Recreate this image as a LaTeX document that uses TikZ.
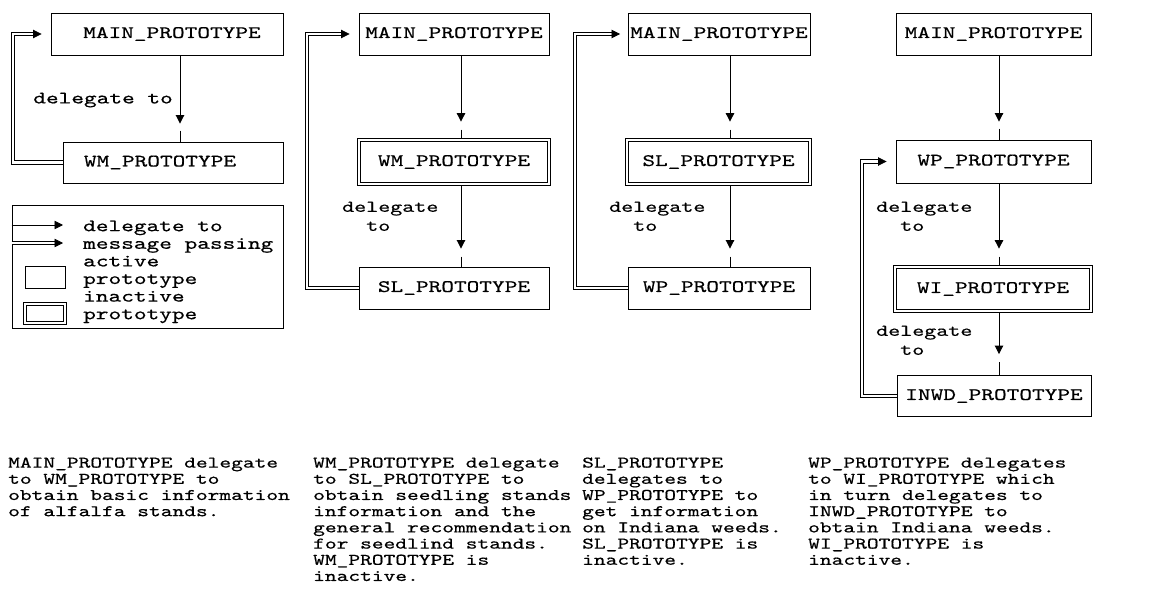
\documentclass[tikz,border=0pt]{standalone}
\usepackage{fontspec}
\setmonofont{lmmono10-regular.otf}[FakeStretch=1.38,FakeBold=0.5]
\usetikzlibrary{arrows.meta,calc}

\begin{document}
\begin{tikzpicture}[x=1pt,y=-1pt,
  every node/.style={font=\ttfamily\fontsize{17.5}{17.6}\selectfont, inner sep=0pt},
  proto/.style={draw, line width=0.9pt, minimum height=42pt},
  inactive/.style={draw, line width=0.8pt, double, double distance=2.4pt, minimum height=44pt},
  deleg/.style={line width=0.9pt, -{Triangle[width=8.5pt,length=8.5pt]}},
  tail/.style={line width=0.9pt},
  msg/.style={line width=0.85pt, double, double distance=2.6pt},
  msgtip/.style={line width=0.8pt, -{Triangle[width=8.5pt,length=8.5pt]}},
  lbl/.style={align=left, anchor=north west, font=\ttfamily\fontsize{16.6}{19}\selectfont},
  legendtext/.style={align=left, anchor=north west, font=\ttfamily\fontsize{17.5}{17.6}\selectfont},
  para/.style={align=left, anchor=north west, font=\ttfamily\fontsize{16.2}{16.2}\selectfont}
]
\fill[white] (0,0) rectangle (1152,616);
\useasboundingbox (0,0) rectangle (1152,616);

% ---------- first chain: MAIN -> WM ----------
\node[proto, minimum width=232pt] (main1) at (167,34) {\hspace*{10pt}MAIN\_PROTOTYPE};
\node[proto, minimum width=220pt, minimum height=41pt] (wm1) at (173,162.5) {WM\_PROTOTYPE\hspace*{26pt}};
\coordinate (v1) at (180,0);
\draw[deleg] (main1.south -| v1) -- ($(wm1.north -| v1)+(0,-18)$);
\draw[tail] ($(wm1.north -| v1)+(0,-11)$) -- (wm1.north -| v1);
\node[anchor=north east] (dl1) at (173,92.5) {delegate to};
\coordinate (m1) at (13,0);
\draw[msg] (wm1.west) -- (wm1.west -| m1) -- (main1.west -| m1) -- ($(main1.west)+(-17,0)$);
\draw[msgtip] ($(main1.west)+(-17,0)$) -- ($(main1.west)+(-9,0)$);

% ---------- legend ----------
\node[draw, line width=0.9pt, minimum width=271pt, minimum height=123pt] (legend) at (147.5,266.5) {};
\coordinate (la) at (63,225);
\coordinate (lb) at (63,243);
\draw[deleg] (legend.west |- la) -- (la);
\draw[msg] (legend.west |- lb) -- ($(lb)+(-8.5,0)$);
\draw[msgtip] ($(lb)+(-8.5,0)$) -- (lb);
\node[proto, minimum width=40pt, minimum height=22pt] (act) at (45,277) {};
\node[inactive, minimum width=40pt, minimum height=19pt] (inact) at (45,313.5) {};
\node[legendtext] (legtxt) at (83,220.3) {delegate to\\message passing\\active\\prototype\\inactive\\prototype};

% ---------- second chain: MAIN -> WM -> SL ----------
\node[proto, minimum width=190pt] (main2) at (454,34) {MAIN\_PROTOTYPE};
\node[inactive, minimum width=190pt] (wm2) at (454,162) {WM\_PROTOTYPE};
\node[proto, minimum width=190pt] (sl2) at (454,288) {SL\_PROTOTYPE};
\coordinate (v2) at (461,0);
\draw[deleg] (main2.south -| v2) -- ($(wm2.north -| v2)+(0,-18)$);
\draw[tail, shorten >=2pt] ($(wm2.north -| v2)+(0,-10)$) -- (wm2.north -| v2);
\draw[deleg, shorten <=2pt] (wm2.south -| v2) -- ($(sl2.north -| v2)+(0,-18)$);
\draw[tail] ($(sl2.north -| v2)+(0,-10)$) -- (sl2.north -| v2);
\node[lbl] (dl2) at (342,201.5) {delegate\\\phantom{de}to};
\coordinate (m2) at (307,0);
\draw[msg] (sl2.west) -- (sl2.west -| m2) -- (main2.west -| m2) -- ($(main2.west)+(-17,0)$);
\draw[msgtip] ($(main2.west)+(-17,0)$) -- ($(main2.west)+(-9,0)$);

% ---------- third chain: MAIN -> SL -> WP ----------
\node[proto, minimum width=182pt] (main3) at (719,34) {MAIN\_PROTOTYPE};
\node[inactive, minimum width=183pt] (sl3) at (718.5,162) {SL\_PROTOTYPE};
\node[proto, minimum width=182pt] (wp3) at (719,288) {WP\_PROTOTYPE};
\coordinate (v3) at (730,0);
\draw[deleg] (main3.south -| v3) -- ($(sl3.north -| v3)+(0,-18)$);
\draw[tail, shorten >=2pt] ($(sl3.north -| v3)+(0,-10)$) -- (sl3.north -| v3);
\draw[deleg, shorten <=2pt] (sl3.south -| v3) -- ($(wp3.north -| v3)+(0,-18)$);
\draw[tail] ($(wp3.north -| v3)+(0,-10)$) -- (wp3.north -| v3);
\node[lbl] (dl3) at (609,201.5) {delegate\\\phantom{de}to};
\coordinate (m3) at (575,0);
\draw[msg] (wp3.west) -- (wp3.west -| m3) -- (main3.west -| m3) -- ($(main3.west)+(-16,0)$);
\draw[msgtip] ($(main3.west)+(-16,0)$) -- ($(main3.west)+(-7.5,0)$);

% ---------- fourth chain: MAIN -> WP -> WI -> INWD ----------
\node[proto, minimum width=195pt] (main4) at (993.5,34) {MAIN\_PROTOTYPE};
\node[proto, minimum width=195pt, minimum height=43pt] (wp4) at (993.5,161.5) {WP\_PROTOTYPE};
\node[inactive, minimum width=196pt] (wi4) at (993,289) {WI\_PROTOTYPE};
\node[proto, minimum width=194pt, minimum height=41pt] (inwd4) at (994,396) {INWD\_PROTOTYPE};
\coordinate (v4) at (999,0);
\draw[deleg] (main4.south -| v4) -- ($(wp4.north -| v4)+(0,-18)$);
\draw[tail] ($(wp4.north -| v4)+(0,-11)$) -- (wp4.north -| v4);
\draw[deleg] (wp4.south -| v4) -- ($(wi4.north -| v4)+(0,-18)$);
\draw[tail, shorten >=2pt] ($(wi4.north -| v4)+(0,-10)$) -- (wi4.north -| v4);
\draw[deleg, shorten <=2pt] (wi4.south -| v4) -- ($(inwd4.north -| v4)+(0,-21)$);
\draw[tail] ($(inwd4.north -| v4)+(0,-13)$) -- (inwd4.north -| v4);
\node[lbl] (dl4a) at (876,201.5) {delegate\\\phantom{de}to};
\node[lbl] (dl4b) at (876,325.5) {delegate\\\phantom{de}to};
\coordinate (m4) at (862,0);
\draw[msg] (inwd4.west) -- (inwd4.west -| m4) -- (wp4.west -| m4) -- ($(wp4.west)+(-17,0)$);
\draw[msgtip] ($(wp4.west)+(-17,0)$) -- ($(wp4.west)+(-9,0)$);

% ---------- explanations ----------
\node[para] (txt1) at (8,457.3) {MAIN\_PROTOTYPE delegate\\to WM\_PROTOTYPE to\\obtain basic information\\of alfalfa stands.};
\node[para] (txt2) at (313,457.3) {WM\_PROTOTYPE delegate\\to SL\_PROTOTYPE to\\obtain seedling stands\\information and the\\general recommendation\\for seedlind stands.\\WM\_PROTOTYPE is\\inactive.};
\node[para] (txt3) at (582,457.3) {SL\_PROTOTYPE\\delegates to\\WP\_PROTOTYPE to\\get information\\on Indiana weeds.\\SL\_PROTOTYPE is\\inactive.};
\node[para] (txt4) at (808,457.3) {WP\_PROTOTYPE delegates\\to WI\_PROTOTYPE which\\in turn delegates to\\INWD\_PROTOTYPE to\\obtain Indiana weeds.\\WI\_PROTOTYPE is\\inactive.};
\end{tikzpicture}
\end{document}
